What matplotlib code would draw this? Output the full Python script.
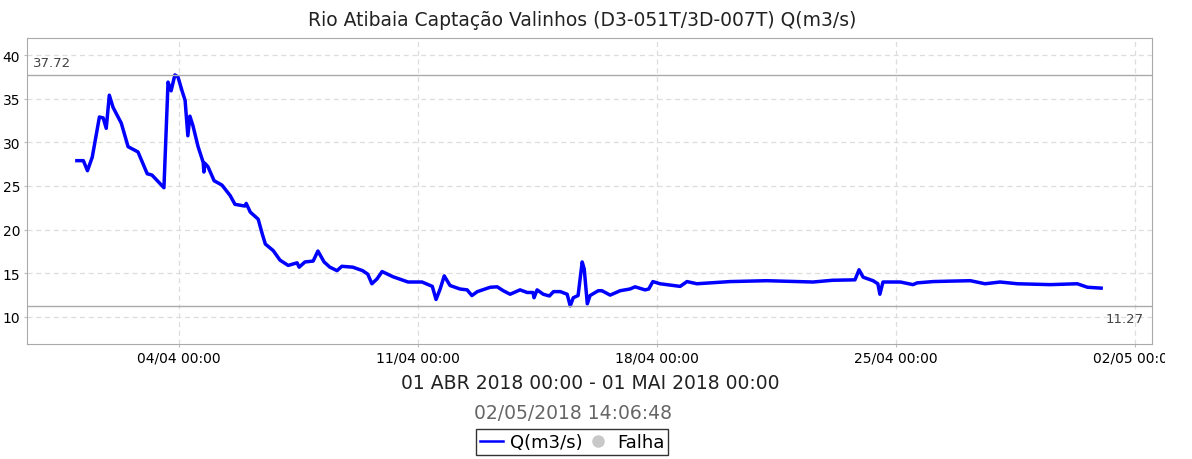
import matplotlib
matplotlib.use("Agg")
import matplotlib.pyplot as plt
import matplotlib.dates as mdates
from matplotlib.lines import Line2D
from matplotlib.transforms import Bbox, TransformedBbox
import pandas as pd

# values (days since 01/04/2018 00:00, flow in m3/s)
days = [0.00, 0.19, 0.31, 0.45, 0.66, 0.77, 0.86, 0.95, 1.06, 1.30, 1.50, 1.79,
        2.06, 2.20, 2.55, 2.67, 2.76, 2.87, 2.96, 3.08, 3.17, 3.25, 3.31, 3.40,
        3.55, 3.70, 3.72, 3.75, 3.84, 4.02, 4.25, 4.49, 4.63, 4.92, 4.96, 5.08,
        5.31, 5.43, 5.52, 5.75, 5.95, 6.19, 6.45, 6.51, 6.68, 6.92, 7.06, 7.24,
        7.41, 7.62, 7.76, 8.08, 8.37, 8.52, 8.64, 8.79, 8.94, 9.26, 9.70, 10.11,
        10.41, 10.52, 10.64, 10.76, 10.93, 11.22, 11.43, 11.57, 11.73, 12.11, 12.31, 12.49,
        12.69, 12.98, 13.19, 13.36, 13.39, 13.48, 13.66, 13.84, 13.96, 14.16, 14.36, 14.45,
        14.54, 14.68, 14.80, 14.86, 14.95, 15.03, 15.27, 15.38, 15.62, 15.91, 16.20, 16.35,
        16.64, 16.75, 16.87, 17.08, 17.67, 17.87, 18.16, 19.13, 20.21, 21.56, 22.14, 22.79,
        22.91, 23.03, 23.32, 23.46, 23.52, 23.61, 24.12, 24.49, 24.61, 25.08, 25.57, 26.17,
        26.60, 27.04, 27.55, 28.51, 29.30, 29.60, 30.00]
flow = [27.9, 27.9, 26.75, 28.3, 32.9, 32.8, 31.6, 35.4, 34.0, 32.2, 29.5, 28.9,
        26.4, 26.25, 24.8, 36.9, 35.9, 37.72, 37.5, 35.9, 34.8, 30.75, 33.0, 31.9,
        29.5, 27.7, 26.6, 27.6, 27.2, 25.6, 25.1, 23.9, 22.9, 22.7, 23.0, 22.0,
        21.2, 19.5, 18.35, 17.6, 16.5, 15.9, 16.2, 15.7, 16.3, 16.4, 17.55, 16.3,
        15.7, 15.3, 15.8, 15.7, 15.3, 14.9, 13.8, 14.35, 15.2, 14.6, 14.0, 14.0,
        13.5, 12.0, 13.2, 14.7, 13.6, 13.2, 13.1, 12.45, 12.9, 13.4, 13.45, 13.0,
        12.6, 13.1, 12.8, 12.8, 12.2, 13.1, 12.6, 12.4, 12.9, 12.9, 12.6, 11.27,
        12.2, 12.45, 16.3, 15.5, 11.5, 12.45, 13.0, 13.0, 12.5, 13.0, 13.2, 13.45,
        13.1, 13.2, 14.05, 13.8, 13.5, 14.05, 13.8, 14.05, 14.15, 14.0, 14.2, 14.25,
        15.4, 14.55, 14.15, 13.8, 12.6, 14.0, 14.0, 13.7, 13.9, 14.05, 14.1, 14.15,
        13.8, 14.0, 13.8, 13.7, 13.8, 13.4, 13.3]

q_max = 37.72
q_min = 11.27
title = "Rio Atibaia Captação Valinhos (D3-051T/3D-007T) Q(m3/s)"
period = "01 ABR 2018 00:00 - 01 MAI 2018 00:00"
stamp = "02/05/2018 14:06:48"

start = pd.Timestamp("2018-04-01 00:00")
times = start + pd.to_timedelta(days, unit="D")

fig = plt.figure(figsize=(11.92, 4.6), dpi=100)
ax = fig.add_axes([27 / 1192, 1 - 345 / 460, 1125 / 1192, 306 / 460])

ax.plot(times, flow, color="#0000ff", lw=2.5, solid_joinstyle="round")

# max / min reference lines with their values
ax.axhline(q_max, color="#aaaaaa", lw=1)
ax.axhline(q_min, color="#aaaaaa", lw=1)
ax.text(0.005, 38.4, f"{q_max:.2f}", va="bottom", ha="left", fontsize=9.5, color="#444444",
        transform=ax.get_yaxis_transform())
ax.text(0.993, 9.8, f"{q_min:.2f}", va="center", ha="right", fontsize=9.5, color="#444444",
        transform=ax.get_yaxis_transform())

ax.set_xlim(start - pd.Timedelta(days=1.461), start + pd.Timedelta(days=31.49))
ax.set_ylim(6.9, 41.95)
ax.set_yticks([10, 15, 20, 25, 30, 35, 40])
ax.set_xticks(pd.to_datetime(["2018-04-04", "2018-04-11", "2018-04-18",
                              "2018-04-25", "2018-05-02"]))
ax.xaxis.set_major_formatter(mdates.DateFormatter("%d/%m %H:%M"))
ax.tick_params(axis="both", length=2, color="#bbbbbb", labelsize=10, pad=3)
ax.grid(True, ls=(0, (4, 3)), color="#dddddd", lw=0.9)
for sp in ax.spines.values():
    sp.set_color("#aaaaaa")

fig.text(582 / 1192, 1 - 20 / 460, title, ha="center", va="center", fontsize=13.5,
         color="#222222")
fig.text(590 / 1192, 1 - 384 / 460, period, ha="center", va="center", fontsize=13.5,
         color="#222222")
fig.text(573 / 1192, 1 - 414 / 460, stamp, ha="center", va="center", fontsize=13.5,
         color="#666666")

handles = [Line2D([], [], color="#0000ff", lw=1.8),
           Line2D([], [], ls="", marker="o", ms=8, color="#c8c8c8")]
leg = fig.legend(handles, ["Q(m3/s)", "Falha"], loc="center",
                 bbox_to_anchor=(572 / 1192, 1 - 443 / 460), ncol=2, fontsize=13,
                 frameon=True, fancybox=False, handlelength=1.3, handletextpad=0.4,
                 columnspacing=0.2, borderpad=0.2, borderaxespad=0)
leg.get_frame().set_edgecolor("black")
leg.get_frame().set_linewidth(1)

# last tick label is cut off at the right edge in the original
fig.canvas.draw()
clip = TransformedBbox(Bbox([[0, 0], [1165 / 1192, 1]]), fig.transFigure)
for lab in ax.get_xticklabels():
    lab.set_clip_box(clip)
    lab.set_clip_on(True)

fig.savefig("out.png", dpi=100)
